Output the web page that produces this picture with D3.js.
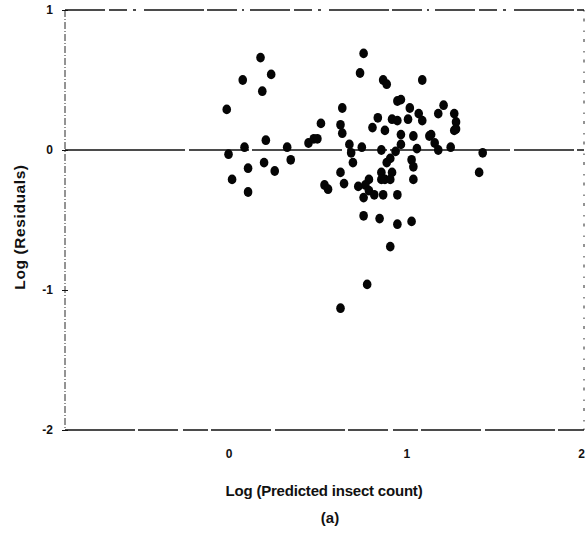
<!DOCTYPE html>
<html>
<head>
<meta charset="utf-8">
<script src="https://cdn.jsdelivr.net/npm/d3@7"></script>
<style>
  body { margin: 0; background: #fff; }
  text { font-family: 'Liberation Sans', Arial, sans-serif; fill: #111; }
</style>
</head>
<body>
<div id="chart"></div>
<script>
// predicted (log) vs residual (log)
var predicted = [
  -0.01, 0.08, 0.18, 0.24, 0.19, 0.00, 0.09, 0.21, 0.33, 0.35,
  0.11, 0.20, 0.26, 0.02, 0.11, 0.52, 0.45, 0.48, 0.50, 0.54,
  0.56, 0.64, 0.63, 0.64, 0.68, 0.69, 0.70, 0.63, 0.65, 0.76,
  0.74, 0.87, 0.89, 1.09, 0.95, 0.97, 1.02, 1.21, 1.18, 1.27,
  1.28, 1.28, 1.27, 0.84, 0.92, 0.95, 1.01, 1.07, 1.09, 0.81,
  0.88, 0.97, 1.04, 1.13, 1.14, 1.16, 1.18, 1.25, 0.75, 0.86,
  0.97, 0.94, 0.91, 0.89, 1.06, 1.03, 1.04, 1.43, 1.41, 0.73,
  0.79, 0.77, 0.79, 0.76, 0.86, 0.86, 0.88, 0.92, 0.91, 1.04,
  0.82, 0.87, 0.95, 0.76, 0.85, 0.95, 1.03, 0.91, 0.78, 0.63
]
var residuals = [
  0.29, 0.50, 0.66, 0.54, 0.42, -0.03, 0.02, 0.07, 0.02, -0.07,
  -0.13, -0.09, -0.15, -0.21, -0.30, 0.19, 0.05, 0.08, 0.08, -0.25,
  -0.28, 0.30, 0.18, 0.12, 0.04, -0.02, -0.09, -0.16, -0.24, 0.69,
  0.55, 0.50, 0.47, 0.50, 0.35, 0.36, 0.30, 0.32, 0.26, 0.26,
  0.20, 0.15, 0.14, 0.23, 0.22, 0.21, 0.22, 0.26, 0.21, 0.16,
  0.14, 0.11, 0.10, 0.10, 0.11, 0.05, 0.00, 0.02, 0.02, 0.00,
  0.04, -0.01, -0.06, -0.09, 0.01, -0.07, -0.12, -0.02, -0.16, -0.26,
  -0.21, -0.25, -0.29, -0.34, -0.16, -0.21, -0.21, -0.16, -0.21, -0.21,
  -0.32, -0.32, -0.32, -0.47, -0.49, -0.53, -0.51, -0.69, -0.96, -1.13
]
var xTicks = [0, 1, 2]
var yTicks = [1, 0, -1, -2]
var xTitle = 'Log (Predicted insect count)'
var yTitle = 'Log (Residuals)'
var caption = '(a)'

var width = 588
var height = 542
var margin = { top: 10, right: 4, bottom: 112, left: 65 }
var tickFont = { size: '12px', weight: 'bold' }

var points = predicted.map(function (d, i) { return { x: d, y: residuals[i] } })

var svg = d3.select('#chart').append('svg')
            .attr('width', width)
            .attr('height', height)

var xScale = d3.scaleLinear()
               .domain([-0.92, 2])
               .range([margin.left, width - margin.right])

var yScale = d3.scaleLinear()
               .domain([-2, 1])
               .range([height - margin.bottom, margin.top])

var x0 = xScale.range()[0]
var x1 = xScale.range()[1]
var y0 = yScale.range()[0]
var y1 = yScale.range()[1]

// frame: scanned look, lines are broken up
var frame = svg.append('g').attr('fill', 'none').attr('stroke', '#111')
frame.append('line')
     .attr('x1', x0).attr('x2', x1).attr('y1', y1).attr('y2', y1)
     .attr('stroke-width', 1.6)
     .attr('stroke-dasharray', '40,4,18,6,3,8,60,3,30,5,2,6')
frame.append('line')
     .attr('x1', x0).attr('x2', x1).attr('y1', y0).attr('y2', y0)
     .attr('stroke-width', 1.4)
     .attr('stroke-dasharray', '70,3,40,5,25,3,60,4')
frame.append('line')
     .attr('x1', x0).attr('x2', x0).attr('y1', y1).attr('y2', y0)
     .attr('stroke-width', 0.9)
     .attr('stroke-dasharray', '7,2,1,2')
frame.append('line')
     .attr('x1', x1).attr('x2', x1).attr('y1', y1).attr('y2', y0)
     .attr('stroke-width', 0.9)
     .attr('stroke-dasharray', '1.5,7,3,9')

// zero line
svg.append('line')
   .attr('x1', x0).attr('x2', x1)
   .attr('y1', yScale(0)).attr('y2', yScale(0))
   .attr('stroke', '#111')
   .attr('stroke-width', 1.6)
   .attr('stroke-dasharray', '120,4,60,3,90,5,40,3')

// y axis
var yAxis = d3.axisLeft(yScale).tickValues(yTicks)
              .tickFormat(function (d) { return String(d) })
              .tickSize(3).tickPadding(9)
var yAxisGroup = svg.append('g')
                    .attr('transform', 'translate(' + x0 + ',0)')
                    .call(yAxis)
yAxisGroup.select('.domain').remove()
yAxisGroup.selectAll('line').attr('stroke', '#111').attr('x2', 3).attr('x1', -3)
yAxisGroup.selectAll('text')
          .style('font-family', "'Liberation Sans', Arial, sans-serif")
          .style('font-size', tickFont.size)
          .style('font-weight', tickFont.weight)
          .attr('fill', '#111')

// x axis, labels only
var xAxis = d3.axisBottom(xScale).tickValues(xTicks)
              .tickFormat(function (d) { return String(d) })
              .tickSize(0).tickPadding(19)
var xAxisGroup = svg.append('g')
                    .attr('transform', 'translate(0,' + y0 + ')')
                    .call(xAxis)
xAxisGroup.select('.domain').remove()
xAxisGroup.selectAll('text')
          .style('font-family', "'Liberation Sans', Arial, sans-serif")
          .style('font-size', tickFont.size)
          .style('font-weight', tickFont.weight)
          .attr('fill', '#111')
// last label sits on the page edge; nudge it in
xAxisGroup.selectAll('.tick').filter(function (d) { return d === 2 })
          .select('text').attr('dx', -3)

// points
svg.append('g').selectAll('ellipse')
   .data(points)
   .enter()
   .append('ellipse')
   .attr('cx', function (d) { return xScale(d.x) })
   .attr('cy', function (d) { return yScale(d.y) })
   .attr('rx', 4.3)
   .attr('ry', 4.9)
   .attr('fill', '#050505')

// titles
svg.append('text')
   .attr('x', 324)
   .attr('y', 496)
   .attr('text-anchor', 'middle')
   .style('font-size', '15px')
   .style('font-weight', 'bold')
   .style('letter-spacing', '-0.2px')
   .text(xTitle)

svg.append('text')
   .attr('x', 330)
   .attr('y', 523)
   .attr('text-anchor', 'middle')
   .style('font-size', '15px')
   .style('font-weight', 'bold')
   .text(caption)

svg.append('text')
   .attr('transform', 'translate(25,227) rotate(-90)')
   .attr('text-anchor', 'middle')
   .style('font-size', '15.5px')
   .style('font-weight', 'bold')
   .style('letter-spacing', '0.6px')
   .text(yTitle)
</script>
</body>
</html>
